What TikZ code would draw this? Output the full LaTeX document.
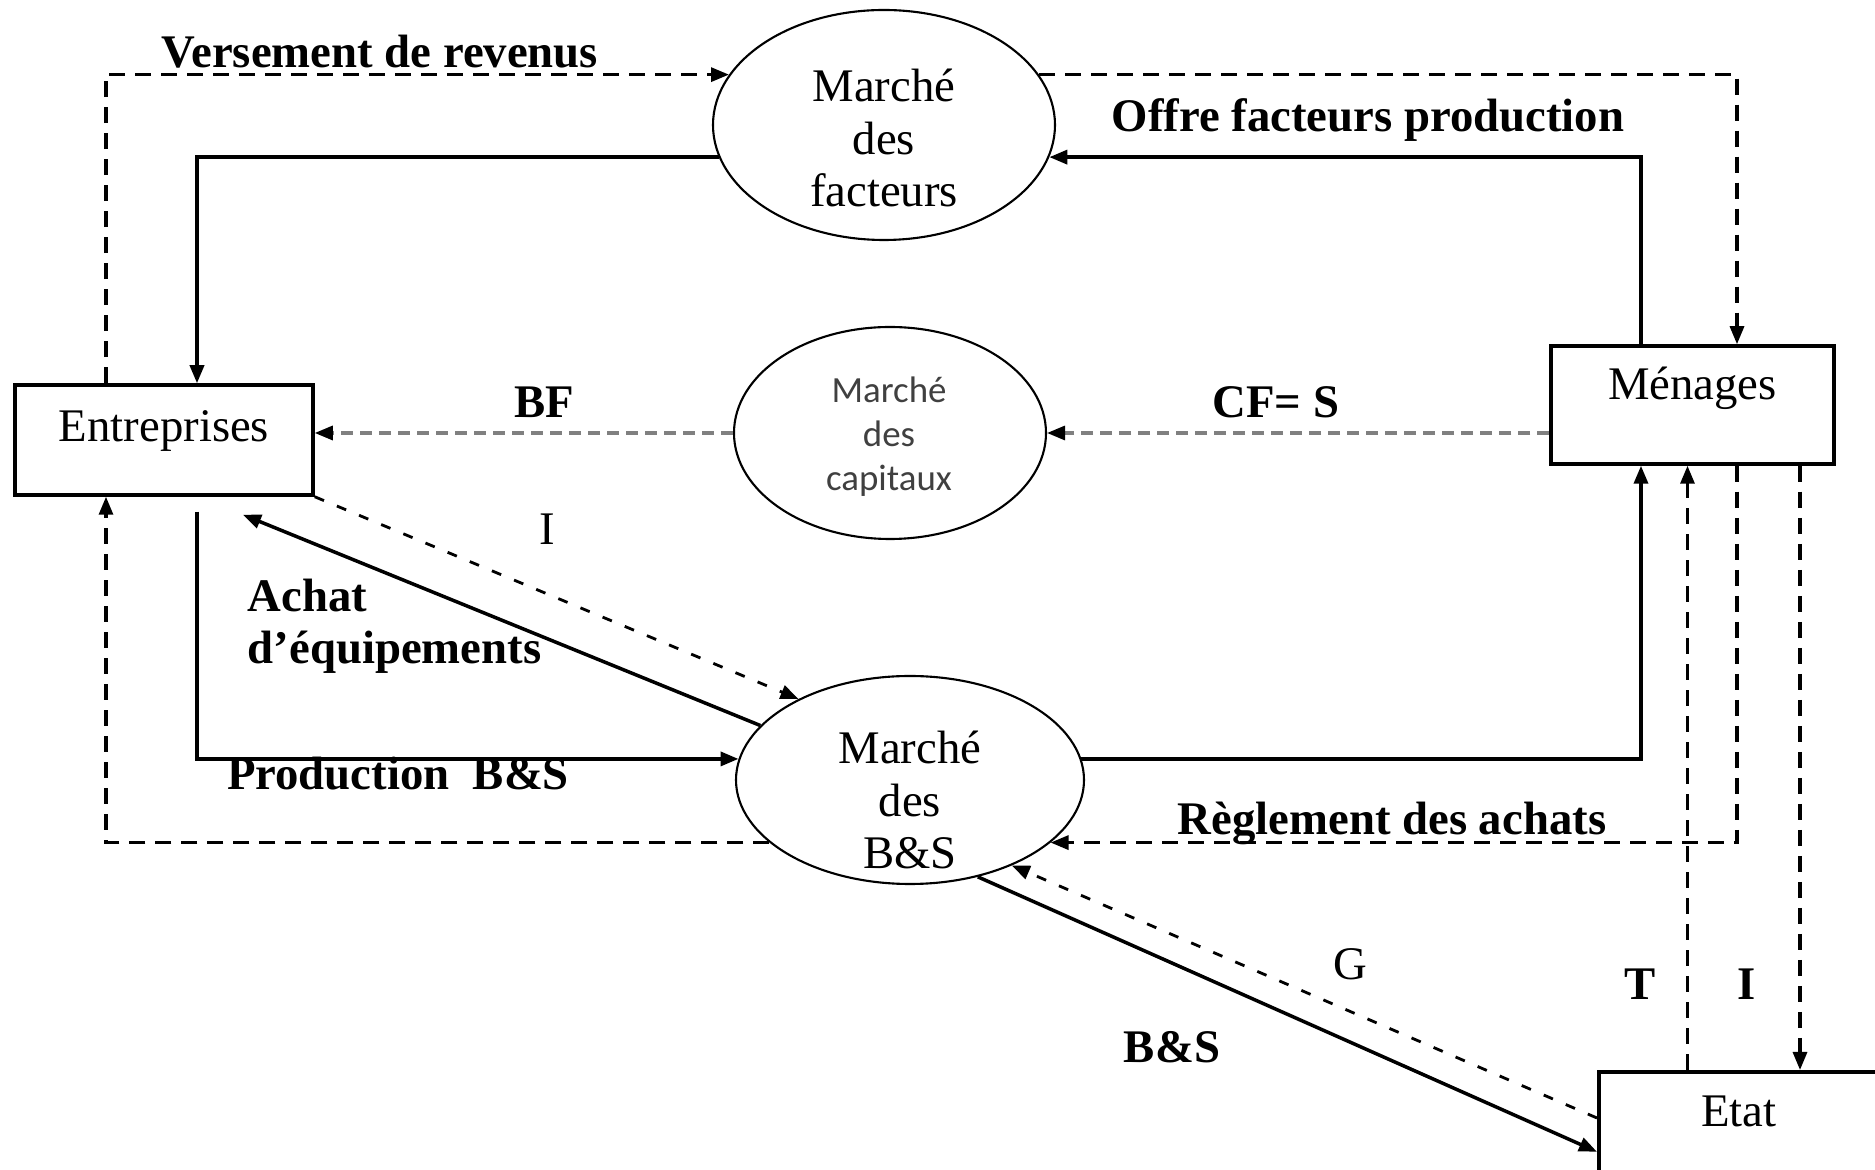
\documentclass[tikz,border=0pt]{standalone}
\usepackage{fontspec}
\setmainfont{Liberation Serif}
\newfontfamily\carlito{Carlito}
\usetikzlibrary{shapes.geometric,arrows.meta}
\tikzset {
boite/.style={shape=rectangle,draw,line width=1pt,text height=0.3cm},
marche/.style={shape=ellipse,draw,line width=0.6pt},
texte/.style={align=center},
lab/.style={anchor=base,font=\bfseries},
tirets/.style={dash pattern=on 0.16cm off 0.1cm,line width=0.9pt},
gris/.style={dash pattern=on 0.12cm off 0.07cm,line width=0.9pt,draw=black!50,-{Triangle[length=0.18cm,width=0.14cm,black]}},
points/.style={dash pattern=on 0.1cm off 0.14cm,line width=0.8pt}
}

\begin{document}
\fontsize{13.3}{15}\selectfont
\begin{tikzpicture}
[>={Triangle[length=0.18cm,width=0.14cm]},line width=1pt]
\path[use as bounding box,clip] (0, 0) rectangle (18.75, -11.7);
\node (entr) at (1.64, -4.40) [boite,minimum width=2.98cm,minimum height=1.1cm,text depth=0.26cm] {Entreprises};
\node (men) at (16.925, -4.05) [boite,minimum width=2.83cm,minimum height=1.18cm,text depth=0.4cm] {Ménages};
\node (etat) at (15.97, -10.7) [boite,anchor=north west,minimum width=2.8cm,minimum height=1.6cm,text depth=0.8cm] {Etat};
\node (mfact) at (8.84, -1.25) [marche,minimum width=3.42cm,minimum height=2.3cm] {};
\node (mcap) at (8.9, -4.33) [marche,minimum width=3.12cm,minimum height=2.12cm] {};
\node (mbs) at (9.1, -7.8) [marche,minimum width=3.48cm,minimum height=2.08cm] {};
\node (tfact) at (8.84, -1.38) [texte] {Marché\\des\\facteurs};
\node (tcap) at (8.89, -4.37) [texte,font=\carlito\fontsize{10.5}{12.5}\selectfont,text=black!75] {Marché\\des\\capitaux};
\node (tbs) at (9.1, -8.0) [texte] {Marché\\des\\B\&S};
\coordinate (achat) at ([xshift=0.79cm,yshift=-0.18cm]entr.south);
\coordinate (etatG) at ([yshift=-0.48cm]etat.north west);
\coordinate (menT) at ([xshift=-0.05cm]men.south);
\coordinate (menI) at ([xshift=1.075cm]men.south);
% flux reels
\draw[->] (mfact.191) -| ([xshift=0.33cm]entr.north);
\draw[->] ([xshift=-0.515cm]men.north) |- (mfact.349);
\draw[->,shorten <=0.15cm] ([xshift=0.33cm]entr.south) |- (mbs.173);
\draw[->] (mbs.7) -| ([xshift=-0.515cm]men.south);
\draw[->] (mbs.160) -- (achat);
\draw[->] (mbs.305) -- (etat.west);
% flux monetaires
\draw[tirets,->] ([xshift=-0.58cm]entr.north) |- (mfact.162);
\draw[tirets,->] (mfact.18) -| ([xshift=0.445cm]men.north);
\draw[tirets,->] ([xshift=0.445cm]men.south) |- (mbs.336);
\draw[tirets,->] (mbs.204) -| ([xshift=-0.58cm]entr.south);
\draw[gris] (mcap.west) -- (mcap.west -| entr.east);
\draw[gris] (mcap.east -| men.west) -- (mcap.east);
\draw[points,->] (entr.south east) -- (mbs.144);
\draw[points,->] (etatG) -- (mbs.320);
\draw[tirets,->] (etat.north -| menT) -- (menT);
\draw[tirets,->] (menI) -- (etat.north -| menI);
% etiquettes
\node (lvers) at (3.8, -0.68) [lab] {Versement de revenus};
\node (loffre) at (13.68, -1.32) [lab] {Offre facteurs production};
\node (lbf) at (5.44, -4.18) [lab] {BF};
\node (lcf) at (12.76, -4.18) [lab] {CF= S};
\node (li) at (5.47, -5.45) [lab,font=\mdseries] {I};
\node (lachat) at (2.46, -5.77) [anchor=north west,inner sep=0pt,align=left,font=\bfseries] {Achat\\d’équipements};
\node (lprod) at (3.98, -7.9) [lab] {Production\ \ B\&S};
\node (lregl) at (13.92, -8.35) [lab] {Règlement des achats};
\node (lg) at (13.5, -9.8) [lab,font=\mdseries] {G};
\node (lbs) at (11.72, -10.63) [lab] {B\&S};
\node (lt) at (16.4, -10.0) [lab] {T};
\node (li2) at (17.47, -10.0) [lab] {I};
\end{tikzpicture}
\end{document}
